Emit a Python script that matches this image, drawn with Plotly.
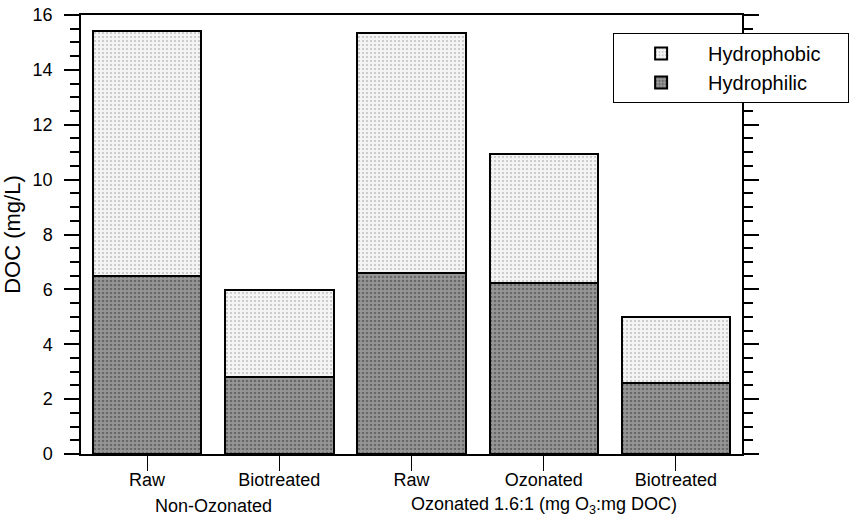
import plotly.graph_objects as go

categories = ["Raw", "Biotreated", "Raw", "Ozonated", "Biotreated"]
hydrophilic = [6.5, 2.8, 6.6, 6.25, 2.6]
total = [15.42, 5.98, 15.35, 10.95, 5.0]
hydrophobic = [t - h for t, h in zip(total, hydrophilic)]
group_labels = ["Non-Ozonated", "Ozonated 1.6:1 (mg O<sub>3</sub>:mg DOC)"]
group_centers = [1.5, 4.0]
series_names = ["Hydrophilic", "Hydrophobic"]

x = list(range(1, len(categories) + 1))
font = "Liberation Sans, Arial, sans-serif"
fs = 18
pad = "&nbsp;" * 4

fig = go.Figure()
fig.add_trace(go.Bar(
    x=x, y=hydrophilic, name=series_names[0] + pad, width=0.82,
    marker=dict(color="#8c8c8c", line=dict(color="black", width=2),
                pattern=dict(shape=".", fgcolor="#3a3a3a", bgcolor="#969696", size=4, solidity=0.35)),
))
fig.add_trace(go.Bar(
    x=x, y=hydrophobic, name=series_names[1] + pad, width=0.82,
    marker=dict(color="#eeeeee", line=dict(color="black", width=2),
                pattern=dict(shape=".", fgcolor="#8a8a8a", bgcolor="#f4f4f4", size=4, solidity=0.2)),
))

for lbl, c in zip(group_labels, group_centers):
    fig.add_annotation(x=c, xref="x", y=-0.118, yref="paper", text=lbl,
                       showarrow=False, yanchor="middle",
                       font=dict(family=font, size=fs, color="black"))

fig.update_layout(
    width=861, height=524,
    margin=dict(l=81, r=117, t=15, b=70),
    barmode="stack",
    plot_bgcolor="white", paper_bgcolor="white",
    font=dict(family=font, size=fs, color="black"),
    showlegend=True,
    legend=dict(x=0.805, y=0.959, xanchor="left", yanchor="top",
                traceorder="reversed", bordercolor="black", borderwidth=1,
                bgcolor="white", font=dict(size=20),
                itemwidth=84),
    xaxis=dict(range=[0.5, 5.5], tickmode="array", tickvals=x, ticktext=categories,
               tickson="boundaries", ticks="outside", ticklen=15, tickwidth=1,
               tickcolor="black", showline=True, linecolor="black", linewidth=1.5,
               mirror=True, showgrid=False, zeroline=False, automargin=False,
               ticklabelstandoff=-6),
    yaxis=dict(range=[0, 16], dtick=2, ticks="outside", ticklen=15, tickwidth=1.5,
               tickcolor="black", showline=True, linecolor="black", linewidth=1.5,
               mirror="ticks", showgrid=False, zeroline=False, automargin=False,
               ticklabelstandoff=8,
               title=dict(text="DOC (mg/L)"),
               minor=dict(dtick=0.5, ticks="outside", ticklen=9, tickcolor="black", showgrid=False)),
)

fig.write_html("out.html", config={"displayModeBar": False},
               post_script="document.body.style.margin='0';")
